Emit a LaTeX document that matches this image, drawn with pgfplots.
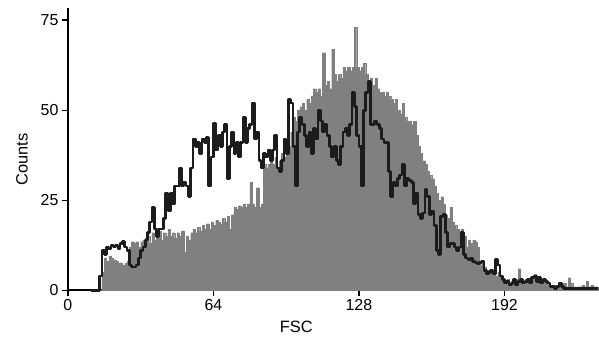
\documentclass[border=0pt]{standalone}
\usepackage{pgfplots}
\usepackage{pgfplotstable}
\usepackage{fontspec}
\setmainfont{Liberation Sans}
\pgfplotsset{compat=1.18}
\definecolor{histgray}{RGB}{128,128,128}
\definecolor{linedark}{RGB}{28,28,28}
\pgfplotstableread{
x y
14 0
15 5
16 9
17 8
18 9.5
19 9
20 8.5
21 8
22 7.5
23 7.7
24 7
25 7.5
26 8
27 12
28 13.5
29 13
30 13.5
31 12
32 13.5
33 14
34 14.5
35 15
36 13
37 16
38 14
39 15.5
40 16.5
41 14
42 16
43 15
44 17
45 15
46 16
47 14.5
48 16
49 15
50 16.5
51 10.5
52 15
53 14
54 16
55 17
56 16
57 17.5
58 16.5
59 18
60 17
61 18.5
62 17
63 19
64 18
65 19.5
66 19
67 18.5
68 20
69 19
70 20.5
71 17
72 21
73 23
74 22.5
75 23.5
76 23
77 24
78 23
79 24
80 30
81 24
82 23
83 28.5
84 23
85 24
86 35
87 34
88 35
89 36
90 35
91 37
92 33
93 36
94 38
95 37
96 42
97 40
98 44
99 48
100 47
101 50
102 51
103 52
104 50
105 53
106 52
107 54
108 56
109 55
110 56
111 54
112 66
113 57
114 58
115 56
116 67
117 60
118 58
119 60
120 59
121 62
122 61
123 62
124 61
125 62
126 73
127 62
128 61
129 62
130 63
131 60
132 58
133 59
134 57
135 59
136 56
137 55
138 55
139 54
140 55
141 54
142 53
143 52
144 53
145 50
146 49
147 52
148 48
149 47
150 47
151 46
152 47
153 43
154 40
155 38
156 36
157 35
158 33
159 32
160 31
161 29
162 27
163 25
164 26
165 24
166 21
167 20
168 23
169 19
170 18
171 17
172 16.5
173 17
174 15
175 12
176 14
177 13
178 14
179 13.5
180 12
181 8
182 7
183 6.5
184 5.5
185 5
186 4.5
187 5
188 4
189 5
190 3.5
191 3
192 2.5
193 3
194 2
195 2.5
196 2
197 3
198 6
199 3
200 2
201 3
202 2.5
203 2
204 3
205 4.5
206 2.5
207 3
208 2
209 3
210 2.5
211 1.5
212 1
213 1.5
214 1
215 1
216 1.5
217 1
218 2
219 1
220 3.5
221 2
222 1
223 0.5
224 1
225 1
226 1.5
227 1
228 2.5
229 1
230 1.5
231 1
232 1
233 1
}\graytable
\pgfplotstableread{
x y
10 0
14 4
15 11
16 10
17 12
18 11.5
19 12.5
20 12
21 12.5
22 11.5
23 13
24 13.5
25 12
26 11
27 7
28 6.5
29 6.5
30 7
31 9
32 11
33 12
34 14
35 16
36 19
37 23
38 17
39 15
40 17
41 17
42 20
43 27
44 22
45 27
46 24
47 29
48 29
49 34
50 29
51 30
52 29
53 26
54 34
55 42
56 40
57 41
58 38
59 42
60 41
61 42.5
62 29
63 37
64 46.5
65 39
66 43
67 40
68 44
69 46
70 31
71 40
72 44
73 38
74 41
75 37
76 41
77 48
78 41
79 45
80 46
81 52
82 42
83 44
84 36
85 34
86 38
87 37
88 39
89 36
90 39
91 43
92 34
93 33
94 36
95 42
96 38
97 53
98 52
99 40
100 29
101 44
102 48
103 46
104 43
105 40
106 44
107 38
108 45
109 42
110 50
111 47
112 44
113 46
114 43
115 40
116 37
117 40
118 36
119 35
120 40
121 44
122 45
123 43
124 46
125 55
126 51
127 43
128 40
129 29
130 50
131 55
132 58
133 46
134 46
135 47
136 46
137 45
138 42
139 41
140 41
141 33
142 26
143 30
144 29
145 31
146 32
147 35
148 29
149 31
150 30.5
151 30
152 24
153 27
154 21
155 20
156 21.5
157 28
158 26
159 21
160 22
161 18
162 11
163 10
164 20.5
165 21
166 16
167 12
168 13
169 13
170 12
171 11
172 12
173 16
174 10
175 9
176 8.5
177 9
178 8
179 7.7
180 7.5
181 7.7
182 8
183 5.5
184 4.5
185 5
186 5.5
187 4.5
188 8.6
189 7
190 4
191 3
192 2
193 2.5
194 1.5
195 2
196 3
197 1.5
198 2.5
199 3
200 2
201 2.5
202 3
203 2
204 3.5
205 4
206 2.5
207 3.5
208 2
209 3
210 2.5
211 2
212 1
213 1
214 0.5
215 1
216 2
217 1
218 0.5
219 0.5
225 0.5
233 0.5
}\blacktable
\begin{document}
\begin{tikzpicture}
\begin{axis}[
  scale only axis,
  width=531bp, height=283bp,
  xmin=0, xmax=233, ymin=0, ymax=78.4,
  axis x line*=bottom, axis y line*=left,
  axis line style={line width=2pt, black},
  xtick={0,64,128,192}, ytick={0,25,50,75},
  tick align=outside,
  major tick length=6bp,
  tick style={line width=1.5pt, black},
  /pgf/number format/assume math mode=true,
  ticklabel style={font=\fontsize{16}{18}\selectfont},
  xlabel={FSC}, ylabel={Counts},
  label style={font=\fontsize{16.5}{18}\selectfont},
  xlabel style={at={(axis description cs:0.431,-0.1307)}, anchor=center},
  ylabel style={at={(axis description cs:-0.0866,0.463)}, anchor=center},
  clip=false,
]
\addplot[const plot, fill=histgray, draw=histgray, line width=0.2pt] table[x=x,y=y] {\graytable} \closedcycle;
\addplot[const plot, draw=linedark, line width=2.7pt, line join=round] table[x=x,y=y] {\blacktable};
\end{axis}
\path (current axis.origin) ++(-68bp,-53bp) rectangle ++(599bp,344bp);
\end{tikzpicture}
\end{document}
